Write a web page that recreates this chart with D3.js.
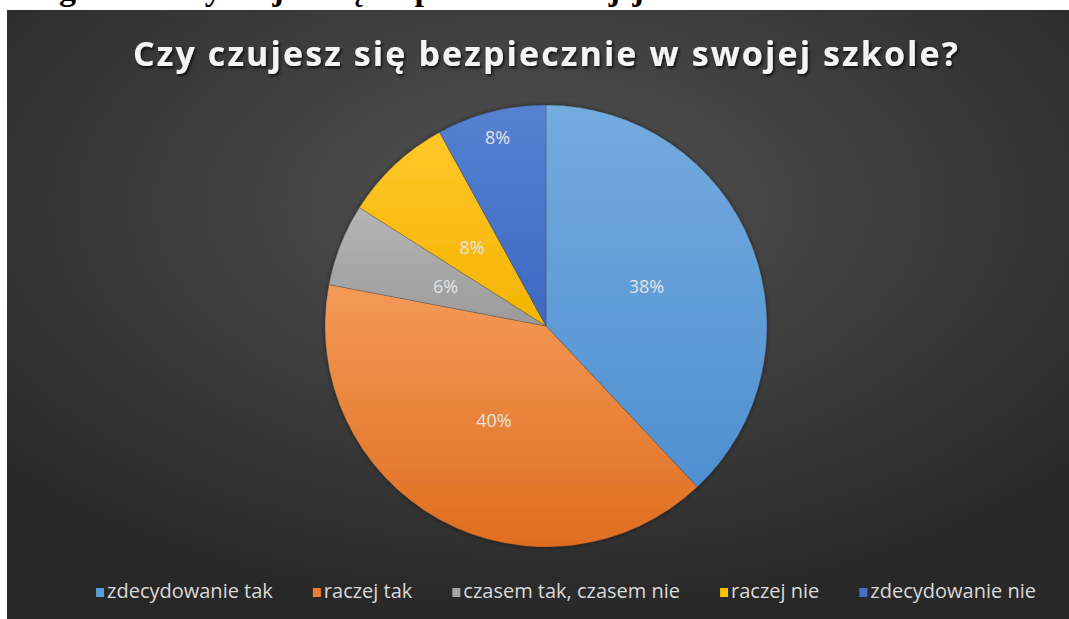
<!DOCTYPE html>
<html>
<head>
<meta charset="utf-8">
<script src="https://cdn.jsdelivr.net/npm/d3@7/dist/d3.min.js"></script>
<style>
  body { margin: 0; background: #fff; }
  svg { display: block; }
</style>
</head>
<body>
<svg id="chart"></svg>
<script>
// chart data
const categories = ["zdecydowanie tak", "raczej tak", "czasem tak, czasem nie", "raczej nie", "zdecydowanie nie"];
const values = [38, 40, 6, 8, 8];
const chartTitle = "Czy czujesz się bezpiecznie w swojej szkole?";
const captionText = "Diagram 1. Czy czujesz się bezpiecznie w swojej szkole?";

// slice colours (top / bottom of each slice gradient)
const colorsTop = ["#74abde", "#f39a58", "#b5b5b5", "#ffc72a", "#5582d0"];
const colorsBottom = ["#4f8fd1", "#df6d1f", "#9b9b9b", "#f4b400", "#3c68c2"];
const legendColors = ["#5b9bd5", "#ed7d31", "#a5a5a5", "#ffc000", "#4472c4"];

const width = 1069, height = 619;
const svg = d3.select('#chart').attr('width', width).attr('height', height);
const defs = svg.append('defs');

// background gradient
const bg = defs.append('radialGradient').attr('id', 'bg')
  .attr('cx', '50%').attr('cy', '32%').attr('r', '68%');
bg.append('stop').attr('offset', '0%').attr('stop-color', '#525252');
bg.append('stop').attr('offset', '100%').attr('stop-color', '#282828');

// title shadow
const shadow = defs.append('filter').attr('id', 'shadow')
  .attr('x', '-5%').attr('y', '-30%').attr('width', '110%').attr('height', '160%');
shadow.append('feDropShadow').attr('dx', 1.5).attr('dy', 2).attr('stdDeviation', 1.6)
  .attr('flood-color', '#000').attr('flood-opacity', 0.75);

const pieShadow = defs.append('filter').attr('id', 'pieShadow')
  .attr('x', '-10%').attr('y', '-10%').attr('width', '120%').attr('height', '120%');
pieShadow.append('feDropShadow').attr('dx', 0).attr('dy', 0).attr('stdDeviation', 2)
  .attr('flood-color', '#000').attr('flood-opacity', 0.5);

values.forEach((v, i) => {
  const g = defs.append('linearGradient').attr('id', 'slice' + i)
    .attr('x1', 0).attr('y1', 0).attr('x2', 0).attr('y2', 1);
  g.append('stop').attr('offset', '0%').attr('stop-color', colorsTop[i]);
  g.append('stop').attr('offset', '100%').attr('stop-color', colorsBottom[i]);
});

// caption line above the chart; only its descenders show above the chart, as in the scan
svg.append('text')
  .attr('x', 12).attr('y', 0)
  .attr('font-family', '"Liberation Serif", "DejaVu Serif", serif')
  .attr('font-weight', 'bold')
  .attr('font-size', 34)
  .attr('textLength', 735)
  .attr('lengthAdjust', 'spacing')
  .attr('fill', '#000')
  .text(captionText);

// chart area
svg.append('rect')
  .attr('x', 7).attr('y', 10)
  .attr('width', width - 7).attr('height', height - 10)
  .attr('fill', 'url(#bg)');

// title
svg.append('text')
  .attr('x', 133).attr('y', 66)
  .attr('font-family', '"Open Sans", "Noto Sans", sans-serif')
  .attr('font-weight', 'bold')
  .attr('font-size', 34)
  .attr('textLength', 825)
  .attr('lengthAdjust', 'spacing')
  .attr('fill', '#f4f4f4')
  .attr('filter', 'url(#shadow)')
  .text(chartTitle);

// pie
const cx = 546, cy = 326, radius = 221;
const pie = d3.pie().sort(null).value(d => d);
const arcs = pie(values);
const arc = d3.arc().innerRadius(0).outerRadius(radius);

const pieG = svg.append('g').attr('transform', `translate(${cx},${cy})`);

pieG.append('g').attr('filter', 'url(#pieShadow)')
  .selectAll('path')
  .data(arcs)
  .enter()
  .append('path')
  .attr('d', arc)
  .attr('fill', (d, i) => `url(#slice${i})`)
  .attr('stroke', 'rgba(60,60,60,0.35)')
  .attr('stroke-width', 0.8);

// percentage labels; the last (small top) slice gets its label near the rim
const total = d3.sum(values);
pieG.selectAll('text.pct')
  .data(arcs)
  .enter()
  .append('text')
  .attr('class', 'pct')
  .attr('transform', (d, i) => {
    const r = i === arcs.length - 1 ? 195 : 108;
    const a = (d.startAngle + d.endAngle) / 2;
    return `translate(${Math.sin(a) * r},${-Math.cos(a) * r})`;
  })
  .attr('text-anchor', 'middle')
  .attr('dy', '0.36em')
  .attr('font-family', '"Open Sans", "Noto Sans", sans-serif')
  .attr('font-size', 18)
  .attr('fill', '#e2e2e2')
  .text(d => Math.round(d.value / total * 100) + '%');

// legend
const legend = svg.append('g').attr('font-family', '"Open Sans", "Noto Sans", sans-serif')
  .attr('font-size', 20).attr('fill', '#d9d9d9');
const items = legend.selectAll('g')
  .data(categories)
  .enter()
  .append('g');

items.append('rect')
  .attr('width', 8).attr('height', 9)
  .attr('y', -10)
  .attr('fill', (d, i) => legendColors[i]);

items.append('text')
  .attr('x', 11)
  .attr('y', 0)
  .text(d => d);

// lay the legend items out in a row, centred
const itemGap = 40;
let xPos = 0;
const offsets = [];
items.each(function () {
  const w = this.querySelector('text').getComputedTextLength() + 11;
  offsets.push(xPos);
  xPos += w + itemGap;
});
const legendWidth = xPos - itemGap;
const legendX = 566 - legendWidth / 2;
items.attr('transform', (d, i) => `translate(${legendX + offsets[i]},598)`);
</script>
</body>
</html>
